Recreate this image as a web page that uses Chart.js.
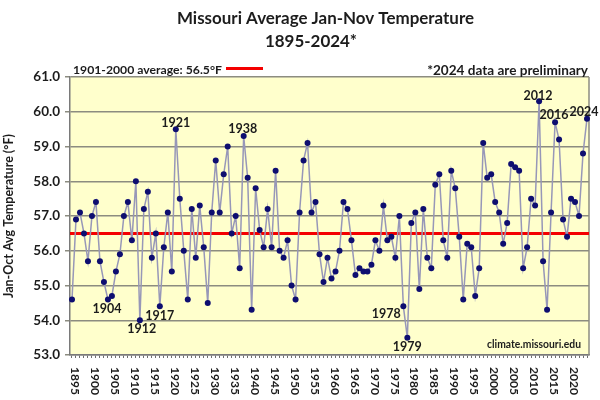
<!DOCTYPE html>
<html>
<head>
<meta charset="utf-8">
<script src="https://cdn.jsdelivr.net/npm/chart.js@4.4.1/dist/chart.umd.min.js"></script>
<style>
	body { margin: 0; background: #fff; }
	#moChart { width: 600px; height: 400px; }
</style>
</head>
<body>
<div id="moChart">
	<canvas id="moCanvas" width="600" height="400"></canvas>
</div>
<script>
// Missouri Jan-Nov average temperature, 1895-2024
const firstYear = 1895;
const lastYear = 2024;
const temps = [
	54.6, 56.9, 57.1, 56.5, 55.7, 57.0, 57.4, 55.7, 55.1, 54.6, // 1895-1904
	54.7, 55.4, 55.9, 57.0, 57.4, 56.3, 58.0, 54.0, 57.2, 57.7, // 1905-1914
	55.8, 56.5, 54.4, 56.1, 57.1, 55.4, 59.5, 57.5, 56.0, 54.6, // 1915-1924
	57.2, 55.8, 57.3, 56.1, 54.5, 57.1, 58.6, 57.1, 58.2, 59.0, // 1925-1934
	56.5, 57.0, 55.5, 59.3, 58.1, 54.3, 57.8, 56.6, 56.1, 57.2, // 1935-1944
	56.1, 58.3, 56.0, 55.8, 56.3, 55.0, 54.6, 57.1, 58.6, 59.1, // 1945-1954
	57.1, 57.4, 55.9, 55.1, 55.8, 55.2, 55.4, 56.0, 57.4, 57.2, // 1955-1964
	56.3, 55.3, 55.5, 55.4, 55.4, 55.6, 56.3, 56.0, 57.3, 56.3, // 1965-1974
	56.4, 55.8, 57.0, 54.4, 53.5, 56.8, 57.1, 54.9, 57.2, 55.8, // 1975-1984
	55.5, 57.9, 58.2, 56.3, 55.8, 58.3, 57.8, 56.4, 54.6, 56.2, // 1985-1994
	56.1, 54.7, 55.5, 59.1, 58.1, 58.2, 57.4, 57.1, 56.2, 56.8, // 1995-2004
	58.5, 58.4, 58.3, 55.5, 56.1, 57.5, 57.3, 60.3, 55.7, 54.3, // 2005-2014
	57.1, 59.7, 59.2, 56.9, 56.4, 57.5, 57.4, 57.0, 58.8, 59.8  // 2015-2024
];
const centuryAvg = 56.5;
const tickYears = ["1895","1900","1905","1910","1915","1920","1925","1930","1935","1940","1945","1950","1955","1960","1965","1970","1975","1980","1985","1990","1995","2000","2005","2010","2015","2020"];
const calloutYears = ["1904","1912","1917","1921","1938","1978","1979","2012","2016","2024"];

let years = [];
for (let yr = firstYear; yr <= lastYear; yr++) years.push(String(yr));

const FONT = 'Lato';
const INK = '#1c1c1c';

// where each year label sits relative to its point
const calloutOffset = {
	"1904": [-1, 9], "1912": [2, 8], "1917": [0, 9], "1921": [0, -7], "1938": [-1, -8],
	"1978": [-17, 7], "1979": [0, 9], "2012": [-1, -6], "2016": [-1, -7.5], "2024": [-3, -7]
};

function fitFont(ctx, text, width){
	ctx.font = 'bold 20px ' + FONT;
	let size = 20 * width / ctx.measureText(text).width;
	ctx.font = 'bold ' + size.toFixed(2) + 'px ' + FONT;
}

const decor = {
	id: 'decor',
	beforeDraw(chart){
		const {ctx, chartArea: a} = chart;
		ctx.save();
		ctx.fillStyle = '#ffffcc';
		ctx.fillRect(a.left, a.top, a.right - a.left, a.bottom - a.top);
		ctx.restore();
	},
	beforeDatasetsDraw(chart){
		const {ctx, chartArea: a, scales} = chart;
		let yy = scales.y.getPixelForValue(centuryAvg);
		ctx.save();
		// right edge of plot box
		ctx.strokeStyle = '#8c8c80';
		ctx.lineWidth = 1.5;
		ctx.beginPath();
		ctx.moveTo(a.right, a.top);
		ctx.lineTo(a.right, a.bottom);
		ctx.stroke();
		// 1901-2000 average
		ctx.strokeStyle = '#f40000';
		ctx.lineWidth = 3;
		ctx.beginPath();
		ctx.moveTo(a.left, yy);
		ctx.lineTo(a.right, yy);
		ctx.stroke();
		ctx.restore();
	},
	afterDraw(chart){
		const {ctx, chartArea: a, scales} = chart;
		ctx.save();
		ctx.fillStyle = INK;
		ctx.textBaseline = 'alphabetic';

		// titles (both lines same size)
		ctx.textAlign = 'center';
		fitFont(ctx, 'Missouri Average Jan-Nov Temperature', 297);
		ctx.fillText('Missouri Average Jan-Nov Temperature', 325.5, 24);
		ctx.fillText('1895-2024*', 311, 46.5);

		// key line + note
		ctx.textAlign = 'left';
		fitFont(ctx, '1901-2000 average: 56.5°F', 149);
		ctx.fillText('1901-2000 average: 56.5°F', 73, 74);
		ctx.strokeStyle = '#f40000';
		ctx.lineWidth = 3;
		ctx.beginPath();
		ctx.moveTo(226, 68.5);
		ctx.lineTo(263, 68.5);
		ctx.stroke();
		ctx.textAlign = 'right';
		fitFont(ctx, '*2024 data are preliminary', 161);
		ctx.fillText('*2024 data are preliminary', 588, 74.5);

		// year callouts
		ctx.textAlign = 'center';
		ctx.font = 'bold 12.5px ' + FONT;
		calloutYears.forEach(yr => {
			let i = years.indexOf(yr);
			let off = calloutOffset[yr];
			let px = scales.x.getPixelForValue(i);
			let py = scales.y.getPixelForValue(temps[i]);
			ctx.fillText(yr, px + off[0], py + off[1] + 4.5);
		});

		// source
		fitFont(ctx, 'climate.missouri.edu', 94);
		ctx.fillText('climate.missouri.edu', 534, 348);

		// x tick labels, rotated clockwise
		ctx.font = 'bold 12px ' + FONT;
		ctx.textAlign = 'left';
		ctx.textBaseline = 'middle';
		tickYears.forEach(yr => {
			let px = scales.x.getPixelForValue(years.indexOf(yr));
			ctx.save();
			ctx.translate(px + 3, a.bottom + 12);
			ctx.rotate(Math.PI / 2);
			ctx.fillText(yr, 0, 0);
			ctx.restore();
		});
		ctx.restore();
	}
};

function drawChart(){
	var ctx = document.getElementById('moCanvas');
	var chart = new Chart(ctx, {
		type: 'line',
		data: {
			labels: years,
			datasets: [{
				label: 'Jan-Nov average',
				data: temps,
				borderColor: '#9797b8',
				borderWidth: 1.5,
				tension: 0,
				pointRadius: 3,
				pointBorderWidth: 0,
				pointBackgroundColor: '#0e0e70',
				pointBorderColor: '#0e0e70'
			}]
		},
		options: {
			responsive: false,
			animation: false,
			devicePixelRatio: 1,
			layout: { padding: { top: 77, right: 11, bottom: 0, left: 0 } },
			plugins: {
				legend: { display: false },
				title: { display: false },
				tooltip: { enabled: false }
			},
			scales: {
				x: {
					type: 'category',
					offset: true,
					grid: { drawOnChartArea: false, drawTicks: true, tickLength: 3, color: '#6e6e6e', offset: false },
					border: { color: '#7a7a7a', width: 1.5 },
					ticks: { display: false, autoSkip: false },
					afterFit: function(s){ s.height = 45; }
				},
				y: {
					min: 53,
					max: 61,
					ticks: {
						stepSize: 1,
						callback: v => v.toFixed(1),
						color: INK,
						padding: 5,
						font: { family: FONT, size: 13.5, weight: 'bold' }
					},
					grid: { color: '#8c8c80', lineWidth: 1.5, tickLength: 5 },
					border: { color: '#7a7a7a', width: 1.5 },
					title: {
						display: true,
						text: 'Jan-Oct Avg Temperature (°F)',
						color: INK,
						padding: { top: 1, bottom: 0 },
						font: { family: FONT, size: 12.5, weight: 'bold' }
					},
					afterFit: function(s){ s.width = 70; }
				}
			}
		},
		plugins: [decor]
	});
}

if (document.fonts && document.fonts.load) {
	document.fonts.load('bold 12px ' + FONT).then(drawChart, drawChart);
} else {
	drawChart();
}
</script>
</body>
</html>
